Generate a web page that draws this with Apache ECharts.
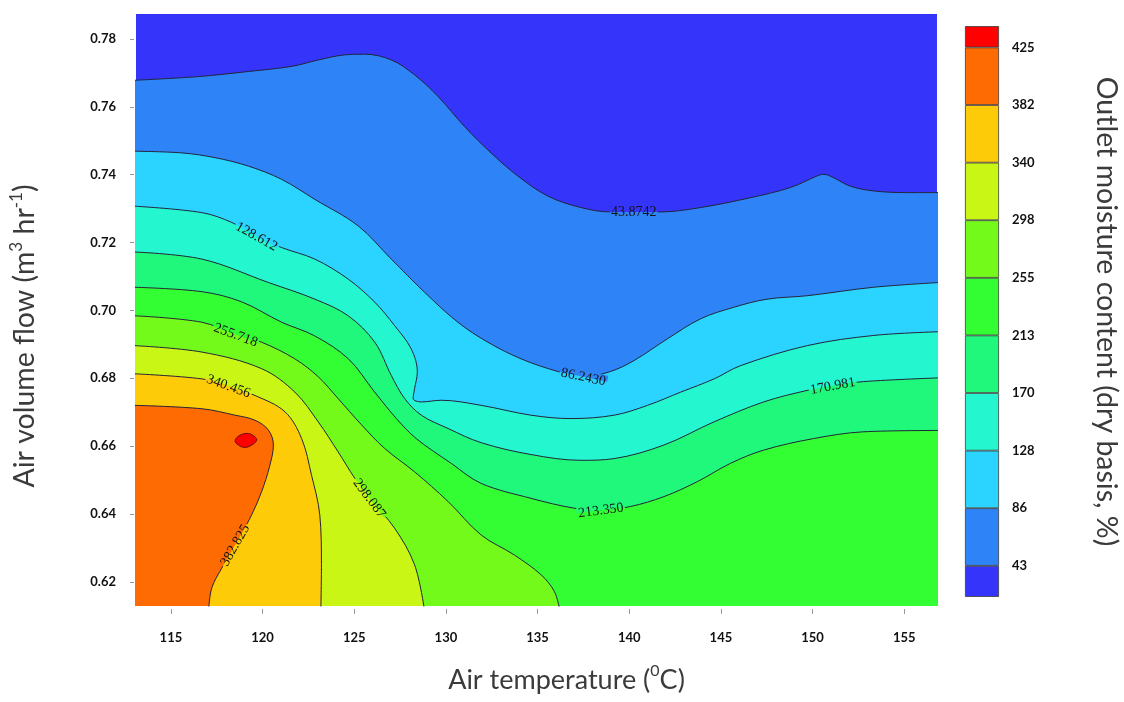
<!DOCTYPE html>
<html><head><meta charset="utf-8">
<script src="https://cdn.jsdelivr.net/npm/echarts@6/dist/echarts.min.js"></script>
<style>html,body{margin:0;padding:0;background:#fff}#c{width:1124px;height:702px}</style>
</head><body><div id="c"></div>
<script>
// ---- data (air temperature [°C], air volume flow [m3/hr]) ----
const xTicks = [115, 120, 125, 130, 135, 140, 145, 150, 155];
const yTicks = [0.62, 0.64, 0.66, 0.68, 0.70, 0.72, 0.74, 0.76, 0.78];
const levels = [43.8742, 86.2430, 128.612, 170.981, 213.350, 255.718, 298.087, 340.456, 382.825, 425.194];

// contour lines, in data units, ordered left -> right
const c044 = [[113.0,0.7678],[116.51,0.7689],[119.23,0.7704],[121.58,0.7719],[123.04,0.7738],[124.48,0.7753],[125.57,0.7755],[127.02,0.7738],[128.29,0.7694],[129.56,0.7631],[131.01,0.7542],[132.46,0.7464],[133.92,0.7396],[135.55,0.7337],[137.36,0.7303],[139.00,0.7290],[141.71,0.7290],[143.89,0.7303],[146.61,0.7332],[148.79,0.7362],[150.24,0.7396],[150.60,0.7401],[151.14,0.7391],[152.05,0.7366],[153.32,0.7352],[155.14,0.7347],[156.9,0.7347]];
const c086 = [[113.0,0.7469],[115.60,0.7464],[117.41,0.7450],[119.23,0.7425],[121.04,0.7386],[122.85,0.7327],[125.21,0.7249],[127.02,0.7151],[128.84,0.7053],[130.65,0.6965],[132.29,0.6906],[134.10,0.6857],[136.09,0.6820],[137.52,0.6804],[138.99,0.6820],[140.26,0.6852],[142.08,0.6916],[143.89,0.6975],[145.70,0.7009],[147.52,0.7033],[149.70,0.7043],[153.32,0.7068],[156.9,0.7082]];
const c129 = [[113.0,0.7307],[116.69,0.7288],[118.32,0.7259],[119.68,0.7218],[121.04,0.7185],[122.85,0.7151],[124.67,0.7092],[126.12,0.7024],[127.20,0.6955],[128.11,0.6886],[128.44,0.6818],[128.29,0.6769],[128.21,0.6740],[128.66,0.6730],[129.75,0.6735],[131.92,0.6720],[134.64,0.6691],[136.82,0.6681],[139.18,0.6691],[141.00,0.6720],[142.81,0.6759],[144.63,0.6798],[146.07,0.6837],[149.71,0.6896],[153.34,0.6926],[156.9,0.6937]];
const c171 = [[113.0,0.7172],[116.69,0.7151],[120.32,0.7082],[122.85,0.7033],[124.67,0.6984],[126.12,0.6906],[127.02,0.6808],[127.75,0.6740],[128.66,0.6691],[130.11,0.6652],[131.92,0.6610],[134.64,0.6575],[137.36,0.6558],[139.17,0.6563],[141.89,0.6603],[144.61,0.6671],[147.33,0.6730],[149.70,0.6764],[151.13,0.6778],[152.78,0.6790],[156.9,0.6801]];
const c213 = [[113.0,0.7068],[116.69,0.7055],[118.86,0.7025],[121.04,0.6965],[122.83,0.6925],[124.68,0.6857],[126.10,0.6760],[127.30,0.6681],[128.38,0.6622],[130.29,0.6549],[131.92,0.6490],[134.64,0.6446],[136.98,0.6417],[138.45,0.6411],[140.08,0.6422],[141.89,0.6451],[143.71,0.6495],[145.52,0.6549],[147.33,0.6588],[150.05,0.6622],[152.77,0.6642],[156.9,0.6646]];
const c256 = [[113.0,0.6984],[116.69,0.6965],[118.54,0.6928],[119.95,0.6906],[121.76,0.6857],[123.04,0.6804],[124.12,0.6740],[125.39,0.6663],[126.66,0.6593],[128.29,0.6524],[130.11,0.6437],[131.92,0.6338],[133.73,0.6279],[135.18,0.6221],[135.91,0.6172],[136.20,0.612]];
const c298 = [[113.0,0.6896],[116.69,0.6877],[119.95,0.6828],[121.76,0.6759],[123.04,0.6671],[124.12,0.6583],[125.03,0.6505],[125.84,0.6446],[127.20,0.6358],[128.29,0.6250],[128.82,0.612]];
const c340 = [[113.0,0.6813],[116.69,0.6798],[118.14,0.6777],[119.59,0.6749],[121.22,0.6701],[122.13,0.6622],[122.67,0.6514],[123.12,0.6397],[123.21,0.6250],[123.18,0.612]];
const c383 = [[113.0,0.6720],[116.69,0.6710],[118.50,0.6691],[119.59,0.6676],[120.32,0.6647],[120.59,0.6603],[120.40,0.6544],[119.95,0.6466],[119.31,0.6387],[118.50,0.6309],[117.77,0.6240],[117.23,0.6182],[117.06,0.612]];
const c425 = [[118.50,0.6616],[118.77,0.6632],[119.23,0.6637],[119.59,0.6627],[119.68,0.6617],[119.41,0.6603],[119.04,0.6596],[118.68,0.6603]];
const contours = [c044, c086, c129, c171, c213, c256, c298, c340, c383];

// where each contour carries its value label
const labelAt = [[140.25,0.7289],[137.50,0.6804],[119.68,0.7218],[151.10,0.6777],[138.45,0.6412],[118.54,0.6928],[125.83,0.6446],[118.16,0.6778],[118.48,0.6308]];

// ---- styles ----
const bandColors = ['#3434fa','#2e84f7','#2ad4fe','#24f7d0','#1ff87a','#33fd33','#74fa1a','#c9f614','#fecb08','#fe6b02','#ff0000'];
const lineColor = '#24243a';
const labelFont = '14px "Liberation Serif"';
const measureCtx = document.createElement('canvas').getContext('2d');
function textWidth(t){ measureCtx.font = labelFont; return measureCtx.measureText(t).width; }

const series = [];
contours.forEach((c, i) => {
  series.push({
    type: 'line', xAxisIndex: 0, yAxisIndex: 0, data: c,
    smooth: 0.35, symbol: 'none', showSymbol: false, silent: true, clip: true,
    lineStyle: { color: lineColor, width: 1 },
    areaStyle: { color: bandColors[i + 1], opacity: 1, origin: 'start' },
    z: 2
  });
});
// the small closed region above the last level
series.push({
  type: 'custom', xAxisIndex: 0, yAxisIndex: 0, silent: true, z: 4,
  data: [c425[0]],
  renderItem: (params, api) => ({
    type: 'polygon',
    shape: { points: c425.map(p => api.coord(p)), smooth: 0.4 },
    style: { fill: bandColors[10], stroke: '#6a1010', lineWidth: 1 }
  })
});
// contour value labels placed on the lines
series.push({
  type: 'custom', xAxisIndex: 0, yAxisIndex: 0, silent: true, z: 6, clip: false,
  data: labelAt,
  renderItem: (params, api) => {
    const i = params.dataIndex;
    const pts = contours[i].map(p => api.coord(p));
    const p = api.coord(labelAt[i]);
    let best = null;
    for (let j = 0; j < pts.length - 1; j++) {
      const a = pts[j], b = pts[j + 1];
      const dx = b[0] - a[0], dy = b[1] - a[1];
      const L2 = dx * dx + dy * dy; if (!L2) continue;
      let t = ((p[0] - a[0]) * dx + (p[1] - a[1]) * dy) / L2;
      t = Math.max(0, Math.min(1, t));
      const qx = a[0] + t * dx, qy = a[1] + t * dy;
      const d = (p[0] - qx) ** 2 + (p[1] - qy) ** 2;
      if (!best || d < best.d) best = { d, qx, qy, dx, dy };
    }
    const len = Math.hypot(best.dx, best.dy);
    let ux = best.dx / len, uy = best.dy / len;
    const flipped = ux < 0;
    if (flipped) { ux = -ux; uy = -uy; }
    const rot = -Math.atan2(uy, ux);
    const hi = bandColors[i + 1], lo = bandColors[i];
    const text = levels[i].toPrecision(6);
    const w = textWidth(text) + 3, h = 12;
    return {
      type: 'group', x: best.qx, y: best.qy, rotation: rot,
      children: [
        { type: 'rect', shape: { x: -w / 2, y: -h / 2, width: w, height: h / 2 + 0.3 }, style: { fill: flipped ? hi : lo } },
        { type: 'rect', shape: { x: -w / 2, y: 0, width: w, height: h / 2 }, style: { fill: flipped ? lo : hi } },
        { type: 'text', style: { text, x: 0, y: 0.5, font: labelFont, fill: '#141414',
          align: 'center', verticalAlign: 'middle', textAlign: 'center', textVerticalAlign: 'middle' } }
      ]
    };
  }
});
// colour bar: stacked blocks between successive levels
const bandHeights = [levels[0]];
for (let k = 1; k < levels.length; k++) bandHeights.push(levels[k] - levels[k - 1]);
bandHeights.push(levels[9] - levels[8]);
bandHeights.forEach((v, k) => {
  series.push({
    type: 'bar', xAxisIndex: 1, yAxisIndex: 1, stack: 'bar', data: [v],
    barWidth: '100%', silent: true,
    itemStyle: { color: bandColors[k], borderColor: '#3c3c3c', borderWidth: 0.8 }
  });
});

function titleStyle(size) {
  return {
    fontFamily: 'Lato', fontSize: size, color: '#3b3b3b', lineHeight: 34,
    rich: { s: { fontFamily: 'Lato', fontSize: Math.round(size * 0.6), color: '#3b3b3b', lineHeight: 20, verticalAlign: 'top' } }
  };
}
const tickLabel = { fontFamily: 'Lato', fontWeight: 'bold', fontSize: 13, color: '#111' };

const option = {
  animation: false,
  backgroundColor: '#fff',
  grid: [
    { left: 134, top: 14, width: 803, height: 594, show: true, backgroundColor: bandColors[0], borderWidth: 0 },
    { left: 965, top: 26.5, width: 37, height: 570 }
  ],
  xAxis: [
    { type: 'value', gridIndex: 0, min: 113.096, max: 156.785, offset: 3,
      axisLine: { show: false }, splitLine: { show: false },
      axisTick: { show: true, length: 5, lineStyle: { color: '#999' }, customValues: xTicks },
      axisLabel: Object.assign({ customValues: xTicks, margin: 22 }, tickLabel),
      name: 'Air temperature ({s|0}C)', nameLocation: 'middle', nameGap: 54,
      nameTextStyle: Object.assign({ padding: [0, 0, 0, 60] }, titleStyle(27)) },
    { type: 'category', gridIndex: 1, data: ['bar'], show: false }
  ],
  yAxis: [
    { type: 'value', gridIndex: 0, min: 0.61286, max: 0.78734, offset: 2,
      axisLine: { show: false }, splitLine: { show: false },
      axisTick: { show: true, length: 4, lineStyle: { color: '#999' }, customValues: yTicks },
      axisLabel: Object.assign({ customValues: yTicks, margin: 18, formatter: v => v.toFixed(2) }, tickLabel),
      name: 'Air volume flow (m{s|3} hr{s|-1})', nameLocation: 'middle', nameGap: 92, nameRotate: 90,
      nameTextStyle: Object.assign({ padding: [0, 52, 0, 0] }, titleStyle(28.5)) },
    { type: 'value', gridIndex: 1, position: 'right', min: 21.3, max: 440.6,
      axisLine: { show: false }, splitLine: { show: false }, axisTick: { show: false },
      axisLabel: Object.assign({ customValues: levels, margin: 13, formatter: v => String(Math.floor(v)) }, tickLabel),
      name: 'Outlet moisture content (dry basis, %)', nameLocation: 'middle', nameGap: 90, nameRotate: -90,
      nameTextStyle: titleStyle(28.5) }
  ],
  series
};
const chart = echarts.init(document.getElementById('c'), null, { renderer: 'canvas' });
chart.setOption(option);
</script></body></html>
